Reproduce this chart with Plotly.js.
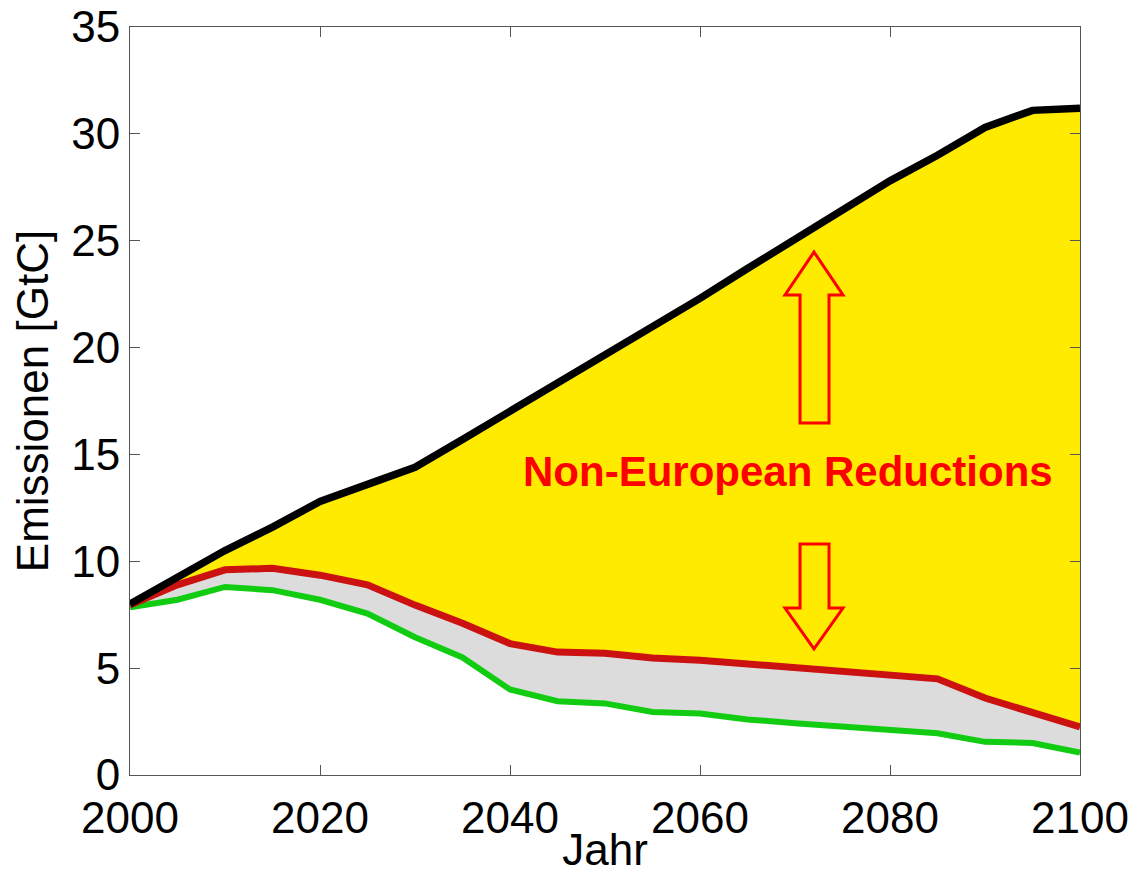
<!DOCTYPE html>
<html>
<head>
<meta charset="utf-8">
<script src="https://cdn.plot.ly/plotly-3.0.1.min.js"></script>
<style>html,body{margin:0;padding:0;background:#fff;}#chart{width:1134px;height:874px;}</style>
</head>
<body>
<div id="chart"></div>
<script>
const years = [2000,2005,2010,2015,2020,2025,2030,2035,2040,2045,2050,2055,2060,2065,2070,2075,2080,2085,2090,2095,2100];
const baseline = [8.0,9.2,10.5,11.6,12.8,13.6,14.4,15.7,17.0,18.3,19.6,21.0,22.3,23.7,25.1,26.4,27.8,29.0,30.3,31.1,31.2];
const reduced = [7.95,8.9,9.6,9.67,9.35,8.9,7.95,7.1,6.15,5.75,5.7,5.47,5.37,5.2,5.05,4.9,4.75,4.5,3.6,2.95,2.25];
const european = [7.85,8.2,8.8,8.65,8.2,7.55,6.45,5.5,4.0,3.45,3.35,2.95,2.88,2.6,2.42,2.25,2.1,1.95,1.55,1.5,1.05];
const xTicks = [2000,2020,2040,2060,2080,2100];
const yTicks = [0,5,10,15,20,25,30,35];
const labelText = 'Non-European Reductions';

const FONT = 'Liberation Sans, Arial, Helvetica, sans-serif';

const traces = [
  {x: years, y: european, mode: 'lines', line: {width: 0, color: 'rgba(0,0,0,0)'}, showlegend: false, hoverinfo: 'skip'},
  {x: years, y: reduced, mode: 'lines', fill: 'tonexty', fillcolor: '#DCDCDC', line: {width: 0, color: 'rgba(0,0,0,0)'}, showlegend: false, hoverinfo: 'skip'},
  {x: years, y: baseline, mode: 'lines', fill: 'tonexty', fillcolor: '#FFEB00', line: {width: 0, color: 'rgba(0,0,0,0)'}, showlegend: false, hoverinfo: 'skip'},
  {x: years, y: european, mode: 'lines', name: 'European', line: {width: 6, color: '#11CC11'}, showlegend: false},
  {x: years, y: reduced, mode: 'lines', name: 'Reduced', line: {width: 7, color: '#CC1111'}, showlegend: false},
  {x: years, y: baseline, mode: 'lines', name: 'Baseline', line: {width: 7.5, color: '#000000'}, showlegend: false}
];

// arrow outlines (data coordinates)
const upArrow = 'M 2072.0 24.47 L 2075.05 22.46 L 2073.58 22.46 L 2073.58 16.47 L 2070.53 16.47 L 2070.53 22.46 L 2068.95 22.46 Z';
const downArrow = 'M 2072.0 5.90 L 2075.05 7.81 L 2073.58 7.81 L 2073.58 10.81 L 2070.53 10.81 L 2070.53 7.81 L 2068.95 7.81 Z';

const layout = {
  width: 1134, height: 874,
  margin: {l: 130, r: 54, t: 27, b: 99},
  paper_bgcolor: '#ffffff', plot_bgcolor: '#ffffff',
  font: {family: FONT, color: '#000'},
  showlegend: false,
  xaxis: {
    range: [2000, 2100], tickvals: xTicks, ticks: 'inside', ticklen: 10, tickcolor: '#555',
    showline: true, linecolor: '#555', linewidth: 1, mirror: 'ticks', showgrid: false, zeroline: false,
    ticklabelstandoff: 4,
    tickfont: {size: 44, family: FONT, color: '#000'},
    title: {text: 'Jahr', font: {size: 44, family: FONT, color: '#000'}, standoff: 0}
  },
  yaxis: {
    range: [0, 35], tickvals: yTicks, ticks: 'inside', ticklen: 10, tickcolor: '#555',
    showline: true, linecolor: '#555', linewidth: 1, mirror: 'ticks', showgrid: false, zeroline: false,
    tickfont: {size: 44, family: FONT, color: '#000'},
    title: {text: 'Emissionen [GtC]', font: {size: 44, family: FONT, color: '#000'}, standoff: 8}
  },
  shapes: [
    {type: 'path', xref: 'x', yref: 'y', path: upArrow, line: {color: '#FF0000', width: 3}, fillcolor: 'rgba(0,0,0,0)'},
    {type: 'path', xref: 'x', yref: 'y', path: downArrow, line: {color: '#FF0000', width: 3}, fillcolor: 'rgba(0,0,0,0)'}
  ],
  annotations: [
    {x: 2069.3, y: 14.18, xref: 'x', yref: 'y', text: '<b>' + labelText + '</b>', showarrow: false,
     font: {size: 42, family: FONT, color: '#FF0000'}, xanchor: 'center', yanchor: 'middle'}
  ]
};

Plotly.newPlot('chart', traces, layout, {displayModeBar: false, staticPlot: true});
</script>
</body>
</html>
